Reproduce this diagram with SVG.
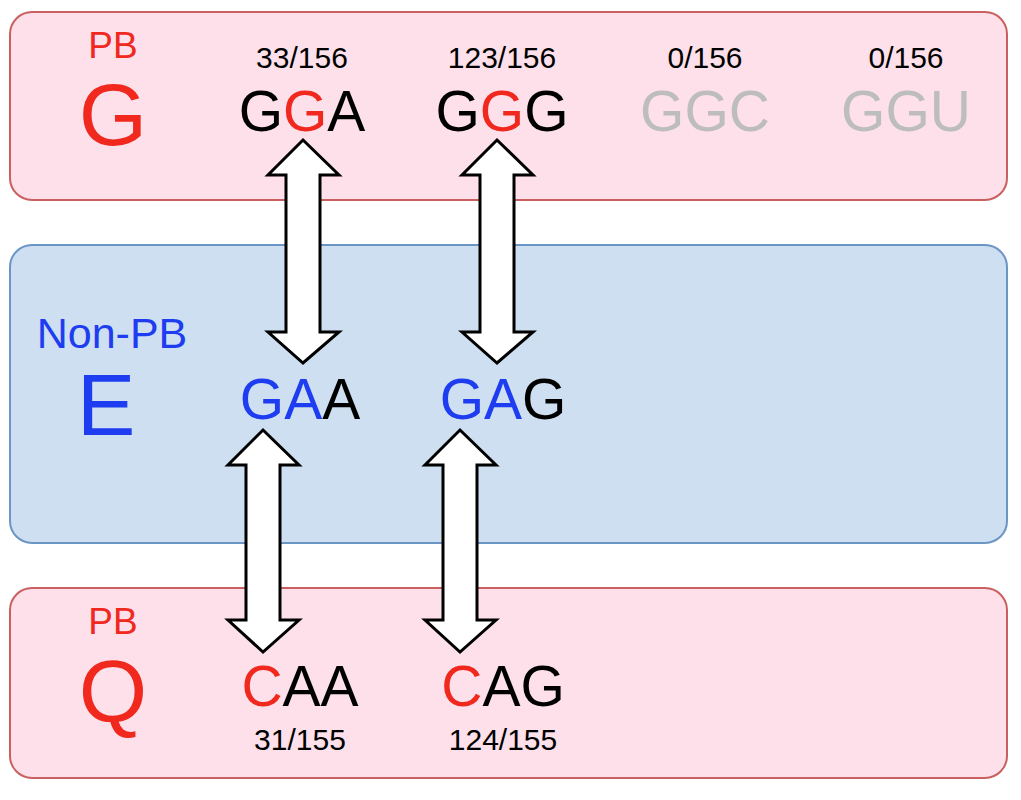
<svg xmlns="http://www.w3.org/2000/svg" width="1021" height="800" viewBox="0 0 1021 800">
<style>
text{font-family:"Liberation Sans",Arial,sans-serif;text-anchor:middle}
.pink{fill:#fde0ea;stroke:#c9605f;stroke-width:2}
.blue{fill:#cddff0;stroke:#6a95c4;stroke-width:2}
.cod{font-size:57px;fill:#000}
.num{font-size:30px;fill:#000}
.r{fill:#f0281e}.b{fill:#1e3cf0}.g{fill:#bdbdbd}
.arr{fill:#fff;stroke:#000;stroke-width:3;stroke-linejoin:miter}
</style>
<g id="boxG"><rect class="pink" x="10" y="12" width="997" height="188" rx="22"/>
<text class="r" x="113" y="58" font-size="37">PB</text>
<text class="r" x="113" y="145" font-size="88">G</text>
<text class="num" x="302" y="68">33/156</text>
<text class="cod" x="302" y="131">G<tspan class="r">G</tspan>A</text>
<text class="num" x="502" y="68">123/156</text>
<text class="cod" x="502" y="131">G<tspan class="r">G</tspan>G</text>
<text class="num" x="705" y="68">0/156</text>
<text class="cod g" x="705" y="131">GGC</text>
<text class="num" x="906" y="68">0/156</text>
<text class="cod g" x="906" y="131">GGU</text>
</g>
<g id="boxE"><rect class="blue" x="10" y="245" width="997" height="298" rx="22"/>
<text class="b" x="112" y="348" font-size="43">Non-PB</text>
<text class="b" x="106" y="435" font-size="88">E</text>
<text class="cod" x="300" y="419"><tspan class="b">GA</tspan>A</text>
<text class="cod" x="503" y="419"><tspan class="b">GA</tspan>G</text>
</g>
<g id="boxQ"><rect class="pink" x="10" y="588" width="997" height="190" rx="22"/>
<text class="r" x="113" y="634" font-size="37">PB</text>
<text class="r" x="113" y="722" font-size="88">Q</text>
<text class="cod" x="300" y="706"><tspan class="r">C</tspan>AA</text>
<text class="num" x="300" y="750">31/155</text>
<text class="cod" x="503" y="706"><tspan class="r">C</tspan>AG</text>
<text class="num" x="503" y="750">124/155</text>
</g>
<g id="connectors">
<path class="arr" d="M303,140 L339,175 L320,175 L320,332 L339,332 L303,363 L268,332 L286,332 L286,175 L268,175 Z"/>
<path class="arr" d="M497,140 L533,175 L514,175 L514,332 L533,332 L497,363 L462,332 L480,332 L480,175 L462,175 Z"/>
<path class="arr" d="M263,430 L299,465 L280,465 L280,620 L299,620 L263,652 L228,620 L246,620 L246,465 L228,465 Z"/>
<path class="arr" d="M460,430 L496,465 L477,465 L477,620 L496,620 L460,652 L425,620 L443,620 L443,465 L425,465 Z"/>
</g>
</svg>
